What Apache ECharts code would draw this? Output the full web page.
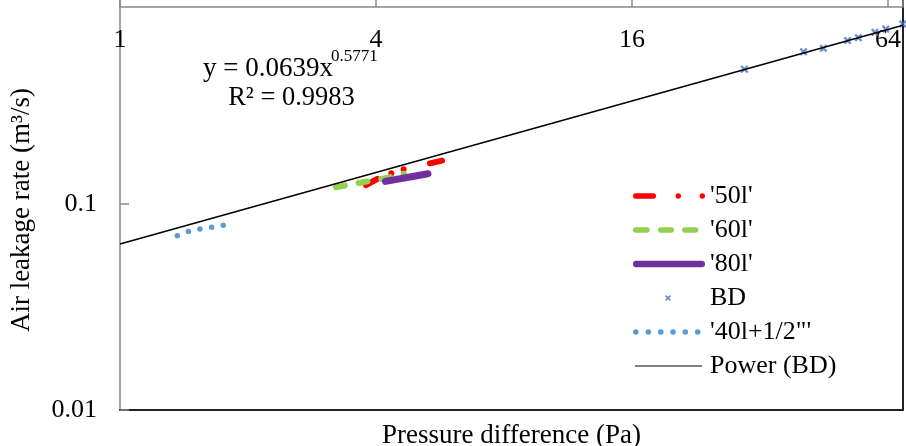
<!DOCTYPE html>
<html><head><meta charset="utf-8">
<script src="https://cdn.jsdelivr.net/npm/echarts@6/dist/echarts.min.js"></script>
<style>html,body{margin:0;padding:0;background:#fff}#c{width:906px;height:446px}</style>
</head><body><div id="c"></div>
<script>
// ---- data ----
const pressure50 = [3.79, 4.09, 4.63, 5.27, 5.72];
const leak50     = [0.1234, 0.1348, 0.1474, 0.1564, 0.1623];
const pressure60 = [3.22, 3.67, 4.20, 4.65];
const leak60     = [0.1206, 0.1269, 0.1333, 0.1402];
const pressure80 = [4.21, 4.73, 5.30];
const leak80     = [0.1287, 0.1345, 0.1403];
const pressureBD = [29.4, 40.5, 45.1, 51.4, 54.5, 59.6, 63.2, 69.3];
const leakBD     = [0.451, 0.548, 0.570, 0.621, 0.642, 0.681, 0.707, 0.748];
const pressure40 = [1.364, 1.448, 1.542, 1.643, 1.750];
const leak40     = [0.0702, 0.0735, 0.0756, 0.0771, 0.0789];
const powerFitX  = [1, 69.4];
const powerFitY  = [0.0639, 0.738];
const seriesNames = ["'50l'", "'60l'", "'80l'", "BD", "'40l+1/2\"'", "Power (BD)"];
const equationText = 'y = 0.0639x';
const exponentText = '0.5771';
const r2Text = 'R² = 0.9983';
const xTitle = 'Pressure difference (Pa)';
const yTitle = 'Air leakage rate (m³/s)';

const FONT = '"Liberation Serif", "Times New Roman", serif';
function pair(xs, ys) { return xs.map((x, i) => [x, ys[i]]); }
function capsule(x0, x1, cy, r) {
  return 'M' + x0 + ' ' + (cy - r) + 'H' + x1 + 'A' + r + ' ' + r + ' 0 0 1 ' + x1 + ' ' + (cy + r) +
         'H' + x0 + 'A' + r + ' ' + r + ' 0 0 1 ' + x0 + ' ' + (cy - r) + 'Z';
}
function xMark(cx, cy, s) {
  const p = [[0,2],[2,0],[5,3],[8,0],[10,2],[7,5],[10,8],[8,10],[5,7],[2,10],[0,8],[3,5]];
  return p.map((q, i) => (i ? 'L' : 'M') + (cx + (q[0] - 5) * s / 10).toFixed(2) + ' ' + (cy + (q[1] - 5) * s / 10).toFixed(2)).join('') + 'Z';
}
const BOX = 'M0 0L0 0M72 8L72 8';
const icons = [
  'path://' + BOX + capsule(2.7, 20.3, 4, 2.7) + capsule(45.3, 45.3, 4, 2.7) + capsule(69.3, 69.3, 4, 2.7),
  'path://' + BOX + capsule(2.7, 14, 4, 2.7) + capsule(27.7, 38.3, 4, 2.7) + capsule(51.7, 62.6, 4, 2.7),
  'path://' + BOX + capsule(3.2, 68.8, 4, 3.2),
  'path://' + BOX + xMark(35, 4, 6),
  'path://' + BOX + [2.7, 15.3, 27.7, 40, 52.3, 64.7].map(c => capsule(c, c, 4, 2.8)).join(''),
  'path://' + BOX + 'M2 3.25H69V4.75H2Z'
];
const markerBD = 'path://' + xMark(5, 5, 10);

const chart = echarts.init(document.getElementById('c'));
const axisGray = '#898989';
const option = {
  animation: false,
  grid: { left: 120, right: 3, top: -2, bottom: 36, outerBoundsMode: 'none', containLabel: false },
  xAxis: [
    {
      type: 'log', logBase: 2, min: 1, max: 69.4, interval: 2, position: 'top', offset: -9,
      axisLine: { show: true, onZero: false, lineStyle: { color: axisGray, width: 1.5 } },
      axisTick: { show: true, inside: false, length: 7, lineStyle: { color: axisGray, width: 1.5 } },
      axisLabel: {
        inside: true, margin: 20, color: '#000', fontFamily: FONT, fontSize: 26,
        formatter: function (v) { const l = Math.log2(v); return Math.abs(l - Math.round(l)) < 1e-6 && Math.round(l) % 2 === 0 ? String(Math.round(v)) : ''; }
      },
      splitLine: { show: false }
    },
    {
      type: 'log', logBase: 2, min: 1, max: 69.4, position: 'bottom',
      axisLine: { show: true, onZero: false, lineStyle: { color: '#222', width: 2 } },
      axisTick: { show: false }, axisLabel: { show: false }, splitLine: { show: false },
      name: xTitle, nameLocation: 'middle', nameGap: 12,
      nameTextStyle: { color: '#000', fontFamily: FONT, fontSize: 27 }
    }
  ],
  yAxis: [
    {
      type: 'log', logBase: 10, min: 0.01, max: 1, interval: 1, position: 'left',
      axisLine: { show: true, onZero: false, lineStyle: { color: axisGray, width: 1.5 } },
      axisTick: { show: true, inside: true, length: 9, lineStyle: { color: axisGray, width: 1.5 } },
      axisLabel: {
        margin: 23, color: '#000', fontFamily: FONT, fontSize: 26, showMaxLabel: false,
        formatter: function (v) { return v > 0.5 ? '' : String(+(+v).toPrecision(2)); }
      },
      splitLine: { show: false },
      name: yTitle, nameLocation: 'middle', nameRotate: 90, nameGap: 85,
      nameTextStyle: { color: '#000', fontFamily: FONT, fontSize: 27, padding: [0, 12, 0, 0] }
    },
    {
      type: 'log', logBase: 10, min: 0.01, max: 1, position: 'right',
      axisLine: { show: true, onZero: false, lineStyle: { color: '#222', width: 2 } },
      axisTick: { show: false }, axisLabel: { show: false }, splitLine: { show: false }
    }
  ],
  legend: {
    orient: 'vertical', left: 628, top: 178, itemWidth: 72, itemHeight: 8, itemGap: 8,
    selectedMode: false, itemStyle: { borderWidth: 0 },
    textStyle: { color: '#000', fontFamily: FONT, fontSize: 26 },
    data: seriesNames.map((n, i) => i === 5 ? { name: n, icon: icons[i], itemStyle: { color: '#595959', borderWidth: 0 } } : { name: n, icon: icons[i] })
  },
  graphic: [
    { type: 'text', x: 203, y: 69, style: { text: equationText, fontFamily: FONT, fontSize: 27, fill: '#000', align: 'left', verticalAlign: 'middle' } },
    { type: 'text', x: 331, y: 57, style: { text: exponentText, fontFamily: FONT, fontSize: 17, fill: '#000', align: 'left', verticalAlign: 'middle' } },
    { type: 'text', x: 291.5, y: 98, style: { text: r2Text, fontFamily: FONT, fontSize: 26.5, fill: '#000', align: 'center', verticalAlign: 'middle' } }
  ],
  series: [
    { name: seriesNames[0], type: 'line', data: pair(pressure50, leak50), symbol: 'none', color: '#FF0000',
      lineStyle: { width: 6, cap: 'round', join: 'round', type: [13, 15, 0, 13, 0, 27] } },
    { name: seriesNames[1], type: 'line', data: pair(pressure60, leak60), symbol: 'none', color: '#92D050',
      lineStyle: { width: 6, cap: 'round', join: 'round', type: [9, 14] } },
    { name: seriesNames[2], type: 'line', data: pair(pressure80, leak80), symbol: 'none', color: '#7030A0',
      lineStyle: { width: 7, cap: 'round', join: 'round', type: 'solid' } },
    { name: seriesNames[3], type: 'scatter', data: pair(pressureBD, leakBD), symbol: markerBD, symbolSize: 8, color: '#4472C4' },
    { name: seriesNames[4], type: 'line', data: pair(pressure40, leak40), symbol: 'none', color: '#5B9BD5',
      lineStyle: { width: 5.5, cap: 'round', type: [0, 11.8] } },
    { name: seriesNames[5], type: 'line', data: pair(powerFitX, powerFitY), symbol: 'none', color: '#000',
      lineStyle: { width: 1.5 }, silent: true }
  ]
};
chart.setOption(option);
</script></body></html>
